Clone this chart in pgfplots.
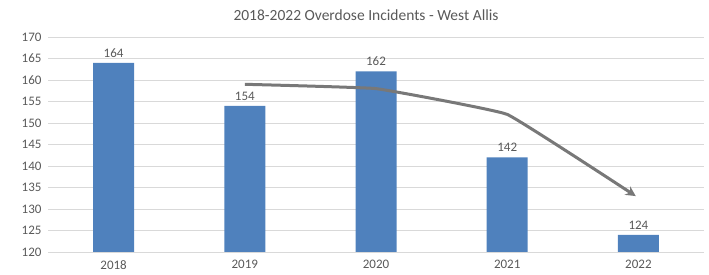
\documentclass[border=0pt]{standalone}
\usepackage{pgfplots}
\pgfplotsset{compat=1.18}
\usepackage{fontspec}
\setmainfont{Carlito}
\usetikzlibrary{arrows.meta}
\definecolor{barblue}{HTML}{4F81BD}
\definecolor{gridgray}{HTML}{D9D9D9}
\definecolor{txtgray}{HTML}{595959}
\definecolor{linegray}{HTML}{787878}
\begin{document}
\begin{tikzpicture}
\useasboundingbox (-48pt,-23pt) rectangle (661pt,252pt);
\begin{axis}[
  at={(0,0)}, anchor=south west,
  scale only axis, width=656pt, height=215pt,
  xmin=-0.5, xmax=4.5, ymin=120, ymax=170,
  ytick distance=5,
  xtick={0,1,2,3,4},
  xticklabels={2018,2019,2020,2021,2022},
  axis line style={draw=none},
  tick style={draw=none},
  ymajorgrids, grid style={gridgray, line width=0.8pt},
  ticklabel style={font=\fontsize{13}{15}\selectfont, text=txtgray},
  /pgf/number format/assume math mode=true,
  /pgf/number format/1000 sep={},
  yticklabel style={xshift=-3pt},
  xticklabel style={yshift=-5pt},
  clip=false,
]
\addplot[ybar, bar width=41pt, fill=barblue, draw=none,
  nodes near coords, nodes near coords style={font=\fontsize{13}{15}\selectfont, text=txtgray, yshift=2pt},
  point meta=y]
  coordinates {(0,164) (1,154) (2,162) (3,142) (4,124)};
\addplot[linegray, line width=3pt, smooth, tension=0.15, -{Stealth[length=10pt,width=10pt]}]
  coordinates {(1,159) (2,158) (3,152) (3.98,133)};
\end{axis}
\node[font=\fontsize{15.5}{18}\selectfont, text=txtgray] at (318pt,237pt) {2018-2022 Overdose Incidents - West Allis};
\end{tikzpicture}
\end{document}
